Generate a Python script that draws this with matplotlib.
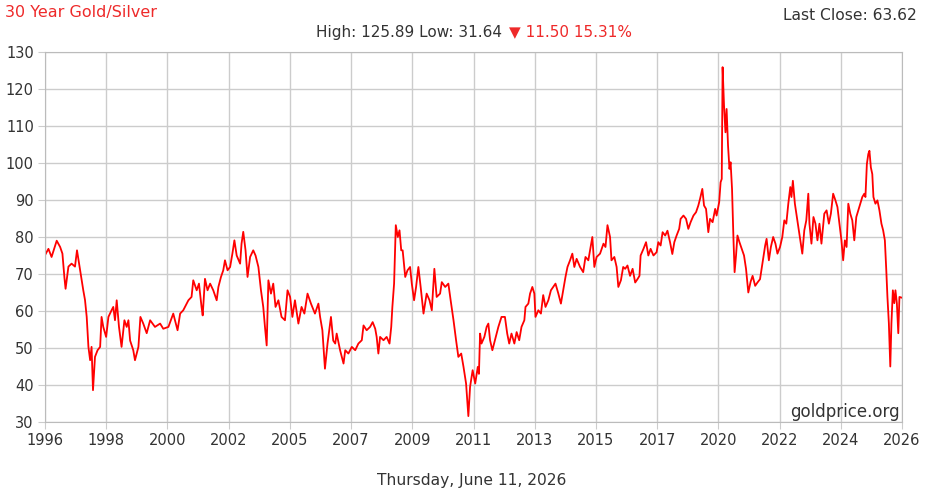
import matplotlib
matplotlib.use("Agg")
import matplotlib.pyplot as plt
import numpy as np

# gold/silver ratio (decimal year, ratio)
years = [
    1996.45, 1996.57, 1996.68, 1996.86, 1996.98, 1997.06, 1997.13, 1997.17, 1997.27, 1997.38,
    1997.50, 1997.57, 1997.68, 1997.79, 1997.85, 1997.91, 1997.97, 1998.03, 1998.08, 1998.13,
    1998.20, 1998.29, 1998.38, 1998.43, 1998.49, 1998.59, 1998.67, 1998.78, 1998.84, 1998.90,
    1998.96, 1999.04, 1999.13, 1999.23, 1999.31, 1999.37, 1999.43, 1999.54, 1999.60, 1999.72,
    1999.79, 1999.89, 2000.01, 2000.13, 2000.30, 2000.48, 2000.59, 2000.77, 2000.94, 2001.09,
    2001.18, 2001.29, 2001.47, 2001.58,
    2001.64, 2001.76, 2001.84, 2001.93, 2001.97, 2002.05, 2002.14, 2002.23, 2002.34, 2002.46,
    2002.52, 2002.61, 2002.69, 2002.75, 2002.84, 2002.93, 2003.01, 2003.08, 2003.16, 2003.28,
    2003.33, 2003.39, 2003.47, 2003.54, 2003.63, 2003.74, 2003.82, 2003.92, 2004.01, 2004.09,
    2004.15, 2004.21, 2004.27, 2004.36, 2004.44, 2004.52, 2004.62, 2004.73, 2004.85, 2004.94,
    2005.03, 2005.11, 2005.20, 2005.32, 2005.43, 2005.53, 2005.64, 2005.76, 2005.90, 2006.02,
    2006.08, 2006.16, 2006.25, 2006.34, 2006.46, 2006.54,
    2006.61, 2006.66, 2006.78, 2006.90, 2006.96, 2007.07, 2007.19, 2007.31, 2007.42, 2007.54,
    2007.60, 2007.71, 2007.83, 2007.92, 2008.01, 2008.06, 2008.12, 2008.18, 2008.30, 2008.41,
    2008.51, 2008.57, 2008.61, 2008.67, 2008.73, 2008.80, 2008.86, 2008.92, 2008.97, 2009.06,
    2009.14, 2009.23, 2009.29, 2009.37, 2009.44, 2009.52, 2009.60, 2009.70, 2009.81, 2009.91,
    2009.99, 2010.08, 2010.16, 2010.28, 2010.34, 2010.46, 2010.57, 2010.65, 2010.75, 2010.84,
    2010.92, 2011.02, 2011.10, 2011.19, 2011.27, 2011.33, 2011.42, 2011.51, 2011.60,
    2011.64, 2011.68, 2011.73, 2011.83, 2011.91, 2011.97, 2012.03, 2012.11, 2012.20, 2012.32,
    2012.43, 2012.55, 2012.63, 2012.70, 2012.78, 2012.88, 2012.96, 2013.05, 2013.13, 2013.23,
    2013.27, 2013.37, 2013.43, 2013.51, 2013.58, 2013.62, 2013.72, 2013.81, 2013.89, 2013.97,
    2014.07, 2014.16, 2014.24, 2014.32, 2014.42, 2014.51, 2014.59, 2014.67, 2014.74, 2014.83,
    2014.91, 2014.98, 2015.06, 2015.18, 2015.29, 2015.37, 2015.47, 2015.53, 2015.61, 2015.68,
    2015.76, 2015.88, 2016.00, 2016.07, 2016.14, 2016.23, 2016.28, 2016.38, 2016.46, 2016.52,
    2016.61, 2016.69,
    2016.76, 2016.84, 2016.93, 2017.02, 2017.11, 2017.19, 2017.26, 2017.30, 2017.40, 2017.49,
    2017.57, 2017.65, 2017.75, 2017.86, 2017.92, 2018.00, 2018.07, 2018.16, 2018.24, 2018.33,
    2018.41, 2018.48, 2018.56, 2018.65, 2018.70, 2018.80, 2018.89, 2018.97, 2019.05, 2019.15,
    2019.24, 2019.32, 2019.38, 2019.46, 2019.52, 2019.59, 2019.67, 2019.73, 2019.82, 2019.91,
    2019.96, 2020.05, 2020.10, 2020.14, 2020.17, 2020.22, 2020.27, 2020.31, 2020.36, 2020.41,
    2020.45, 2020.50, 2020.55, 2020.59, 2020.64, 2020.69, 2020.76, 2020.84, 2020.92, 2020.99,
    2021.07, 2021.15, 2021.22, 2021.31, 2021.39, 2021.48, 2021.57, 2021.66, 2021.71, 2021.77,
    2021.79, 2021.86, 2021.94, 2022.02, 2022.09, 2022.18, 2022.26, 2022.33, 2022.40, 2022.47,
    2022.54, 2022.58, 2022.63, 2022.70, 2022.77, 2022.84, 2022.91, 2022.96, 2023.03, 2023.10,
    2023.17, 2023.21, 2023.28, 2023.35, 2023.42, 2023.49, 2023.56, 2023.63, 2023.73, 2023.81,
    2023.89, 2023.96, 2024.04, 2024.12, 2024.19, 2024.26, 2024.33, 2024.39, 2024.45, 2024.51,
    2024.57, 2024.64, 2024.71, 2024.78, 2024.85, 2024.92, 2024.99, 2025.06, 2025.13, 2025.17,
    2025.22, 2025.27, 2025.31, 2025.36, 2025.41, 2025.45, 2025.52, 2025.59, 2025.66, 2025.73,
    2025.79, 2025.85, 2025.90, 2025.94, 2025.99, 2026.04, 2026.08, 2026.13, 2026.18, 2026.22,
    2026.27, 2026.32, 2026.36, 2026.44,
]
ratio = [
    75.1, 76.8, 74.6, 79.0, 77.3, 75.5, 69.0, 66.0, 72.0, 72.8,
    72.0, 76.4, 71.0, 65.6, 63.0, 58.4, 50.3, 46.7, 50.3, 38.6,
    47.6, 49.4, 50.3, 58.4, 55.7, 53.0, 58.4, 60.2, 61.1, 57.5,
    62.9, 55.7, 50.3, 57.5, 55.7, 57.5, 52.0, 49.4, 46.7, 50.3,
    58.4, 56.6, 54.0, 57.5, 55.7, 56.6, 55.2, 55.7, 59.3, 54.8,
    59.3, 60.2, 62.9, 63.8,
    68.3, 65.6, 67.4, 61.1, 58.8, 68.7, 65.6, 67.4, 65.6, 62.9,
    66.5, 69.2, 71.0, 73.7, 71.0, 71.9, 75.5, 79.1, 75.0, 72.8,
    78.2, 81.4, 76.4, 69.2, 74.6, 76.4, 75.0, 71.9, 65.6, 61.1,
    55.7, 50.7, 68.3, 64.7, 67.4, 61.1, 62.9, 58.4, 57.5, 65.6,
    63.8, 58.4, 62.9, 56.6, 61.1, 59.3, 64.7, 62.0, 59.3, 62.0,
    58.4, 54.8, 44.4, 51.2, 58.4, 52.0,
    51.2, 53.9, 49.4, 45.8, 49.4, 48.5, 50.3, 49.4, 51.2, 52.1,
    56.1, 54.8, 55.7, 57.0, 55.2, 53.0, 48.5, 53.0, 52.1, 53.0,
    51.2, 55.7, 61.1, 67.4, 83.2, 80.0, 81.8, 76.4, 76.4, 69.2,
    71.0, 71.9, 67.4, 62.9, 66.5, 71.9, 66.5, 59.3, 64.7, 62.9,
    60.2, 71.4, 63.8, 64.7, 67.8, 66.5, 67.4, 62.9, 57.5, 52.1,
    47.6, 48.5, 44.9, 40.4, 31.6, 39.5, 44.0, 40.4, 44.9,
    43.0, 53.9, 51.2, 53.0, 55.7, 56.6, 52.1, 49.4, 52.1, 55.7,
    58.4, 58.4, 53.9, 51.2, 53.9, 51.2, 54.3, 52.1, 55.7, 57.5,
    61.1, 62.0, 64.7, 66.5, 64.7, 58.4, 60.2, 59.3, 64.3, 61.1,
    62.9, 65.6, 66.5, 67.4, 64.7, 62.0, 65.6, 69.2, 71.9, 73.7,
    75.5, 71.9, 74.1, 71.9, 70.5, 74.6, 73.7, 76.4, 80.0, 71.9,
    74.6, 75.5, 78.2, 77.3, 83.2, 80.0, 73.7, 74.6, 71.9, 66.5,
    68.3, 71.9,
    71.4, 72.3, 69.5, 71.4, 67.7, 68.6, 69.5, 75.0, 76.8, 78.6,
    75.0, 76.8, 75.0, 75.9, 78.6, 77.7, 81.3, 80.4, 81.7, 78.6,
    75.4, 78.6, 80.4, 82.2, 84.9, 85.8, 84.9, 82.2, 84.0, 85.8,
    86.7, 88.5, 90.3, 93.0, 88.5, 87.6, 81.3, 84.9, 84.0, 87.6,
    85.8, 89.4, 94.8, 95.7, 125.9, 115.5, 108.3, 114.6, 104.7, 98.4,
    100.2, 93.0, 79.5, 70.5, 75.0, 80.4, 78.6, 76.8, 75.0, 71.4,
    65.0, 67.9, 69.5, 66.8, 67.7, 68.6, 73.2, 77.7, 79.5, 75.0,
    73.7, 77.3, 80.0, 78.2, 75.5, 77.3, 80.0, 84.5, 83.6, 89.0,
    93.5, 90.8, 95.2, 89.0, 85.4, 81.8, 78.2, 75.5, 81.8, 84.5,
    91.7, 83.6, 78.2, 85.4, 83.6, 79.1, 83.6, 78.2, 86.3, 87.2,
    83.6, 86.3, 91.7, 89.9, 88.1, 83.6, 79.1, 73.7, 79.1, 77.3,
    89.0, 86.3, 84.5, 79.1, 85.4, 87.2, 89.0, 90.8, 91.7, 90.8,
    99.7, 102.4, 103.3, 98.8, 97.0, 90.8, 89.0, 89.9, 87.2, 83.6,
    81.8, 79.1, 71.0, 63.8, 56.7, 45.0, 56.7, 65.6, 62.1, 65.6,
    62.1, 54.0, 63.8, 63.6,
]

x_tick_labels = ["1996", "1998", "2000", "2002", "2005", "2007", "2009", "2011",
                 "2013", "2015", "2017", "2020", "2022", "2024", "2026"]
y_ticks = [30, 40, 50, 60, 70, 80, 90, 100, 110, 120, 130]

title = "30 Year Gold/Silver"
last_close = "Last Close: 63.62"
hi_lo = "High: 125.89 Low: 31.64 "
change = "\u25bc 11.50 15.31%"
date_text = "Thursday, June 11, 2026"
source = "goldprice.org"

W, H = 927, 496
dark = "#333333"
red = "#ee2a2a"

fig = plt.figure(figsize=(W / 100, H / 100), dpi=100)
ax = fig.add_axes([45 / W, 1 - 422 / H, 857 / W, 370 / H])

ax.plot(years, ratio, color="#ff0000", lw=1.3)

x0, x1 = years[0], years[-1] + 0.01
ax.set_xlim(x0, x1)
ax.set_ylim(30, 130)
ax.set_xticks(np.linspace(x0, x1, len(x_tick_labels)))
ax.set_xticklabels(x_tick_labels)
ax.set_yticks(y_ticks)
ax.grid(True, color="#cccccc", lw=1)
ax.set_axisbelow(True)
for s in ax.spines.values():
    s.set_color("#bbbbbb")
ax.tick_params(length=5, color="#cccccc", labelsize=10.5, labelcolor=dark, pad=3)

def px(x, y):
    return x / W, 1 - y / H

fig.text(*px(5, 13), title, color=red, fontsize=11.5, va="center", ha="left")
fig.text(*px(917, 16), last_close, color=dark, fontsize=11.2, va="center", ha="right")
fig.text(*px(507, 32), hi_lo, color=dark, fontsize=11, va="center", ha="right")
fig.text(*px(509, 32), change, color=red, fontsize=11, va="center", ha="left")
fig.text(*px(472, 481), date_text, color=dark, fontsize=11.2, va="center", ha="center")
fig.text(*px(900, 412), source, color=dark, fontsize=12, va="center", ha="right")

fig.savefig("out.png", dpi=100, facecolor="white")
